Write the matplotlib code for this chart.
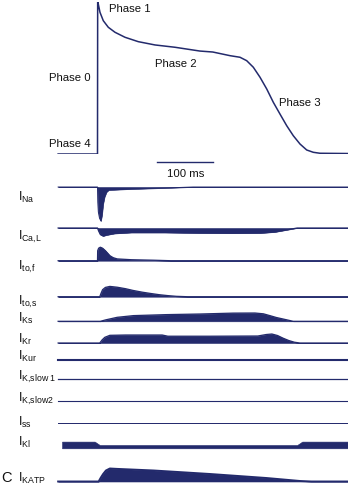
import matplotlib
matplotlib.use("Agg")
import matplotlib.pyplot as plt
import numpy as np

plt.rcParams['font.family'] = ['Liberation Sans', 'DejaVu Sans']
plt.rcParams['mathtext.fontset'] = 'custom'
plt.rcParams['mathtext.rm'] = 'Liberation Sans'
plt.rcParams['mathtext.it'] = 'Liberation Sans'

NAVY = '#232a6c'

# ---------------- data ----------------
# action potential: time (ms), membrane potential (mV)
ap_t = [-70, 0, 0.3, 1.4, 4.4, 10.3, 19.2, 31.1, 48.9, 72.5, 102.2, 137.8, 182,
        205, 235.6, 253.3, 265.2, 277, 288.9, 300.8, 312.6, 324.4, 336.4,
        348.1, 360, 371.9, 383.6, 395.6, 445]
ap_v = [-85, -85, 40, 38.1, 31.3, 24.4, 19.0, 14.9, 10.8, 7.2, 4.5, 2.6, -0.5,
        -1.3, -4.3, -5.6, -8.4, -13.8, -22.0, -31.6, -42.6, -52.2, -61.8,
        -70.0, -76.8, -81.7, -83.6, -84.4, -84.6]

phase_labels = ["Phase 0", "Phase 1", "Phase 2", "Phase 3", "Phase 4"]
scale_label = "100 ms"
scale_ms = [105, 205]

# ionic currents (relative amplitude, arbitrary units); + outward, - inward
current_names = ["Na", "Ca,L", "to,f", "to,s", "Ks", "Kr", "Kur",
                 "K,slow 1", "K,slow2", "ss", "Kl", "KATP"]

ina_t = [-70, 0, 0.5, 1.5, 3.5, 6, 8, 10, 12.5, 16, 20, 60, 120, 170, 445]
ina_v = [0, 0, -15, -25, -31, -34, -28, -17, -10, -5, -3, -2, -1, 0, 0]

ical_t = [-70, 0, 2, 5, 10, 16, 30, 60, 120, 180, 240, 290, 315, 330, 345, 355, 445]
ical_v = [0, 0, -3, -6.5, -8, -7, -5.5, -4.5, -4.5, -5, -5.2, -5, -4, -2.5, -1, 0, 0]

itof_t = [-70, 0, 0.3, 2, 5, 9, 14, 18, 22, 28, 35, 60, 100, 130, 445]
itof_v = [0, 0, 10, 12.5, 13.5, 12.5, 10, 7.5, 5, 3, 1.8, 1, 0.5, 0, 0]

itos_t = [-70, 4, 6, 9, 14, 22, 35, 50, 63, 80, 95, 110, 125, 140, 160, 445]
itos_v = [0, 0, 3, 7, 9.3, 10.3, 9.5, 8, 6.3, 4.5, 3.2, 2, 1.1, 0.4, 0, 0]

iks_t = [-70, 5, 15, 35, 64, 123, 182, 241, 280, 295, 307, 318, 330, 348, 445]
iks_v = [0, 0, 1.5, 4, 5.7, 6.7, 7.3, 8.2, 8.3, 7.5, 5.6, 3.8, 2.3, 0, 0]

ikr_t = [-70, 4, 8, 13, 22, 50, 115, 125, 200, 285, 300, 310, 320, 330, 340, 350, 360, 445]
ikr_v = [0, 0, 3, 5.7, 7.7, 8, 8, 6.8, 6.8, 7, 8.5, 9, 7.5, 4.8, 2.5, 0.8, 0, 0]

ikur_t = [-70, 445]
ikur_v = [0, 0]

ikslow1_t = [-70, 445]
ikslow1_v = [0, 0]

ikslow2_t = [-70, 445]
ikslow2_v = [0, 0]

iss_t = [-70, 445]
iss_v = [0, 0]

ik1_t = [-63, -5, 4, 355, 364, 446]
ik1_v = [6.7, 6.7, 3.3, 3.3, 6.7, 6.7]

ikatp_t = [-70, 2, 6, 10, 15, 22, 35, 100, 200, 300, 360, 380, 445]
ikatp_v = [0, 0, 4, 7.5, 11, 13, 12.6, 11, 7.5, 3.5, 0.5, 0, 0]

currents = [(ina_t, ina_v), (ical_t, ical_v), (itof_t, itof_v), (itos_t, itos_v),
            (iks_t, iks_v), (ikr_t, ikr_v), (ikur_t, ikur_v),
            (ikslow1_t, ikslow1_v), (ikslow2_t, ikslow2_v), (iss_t, iss_v),
            (ik1_t, ik1_v), (ikatp_t, ikatp_v)]

# ---------------- layout (pixels) ----------------
W, H = 348, 489
X0_PX, PX_PER_MS = 97.5, 0.5625
XLIM = (-X0_PX / PX_PER_MS, (W - X0_PX) / PX_PER_MS)

baseline_px = [188, 229, 261.7, 297.7, 322.3, 344, 361, 380, 402, 424, 449.3, 482.5]
label_base_px = [200.5, 240, 270, 305, 322, 343, 360, 380, 402, 426, 446, 481.7]
line_w = [0.7, 0.9, 0.9, 0.9, 0.9, 0.9, 1.5, 0.9, 0.8, 0.7, 0.0, 1.4]

fig = plt.figure(figsize=(W / 100, H / 100), dpi=100)


def fx(x):
    return x / W


def fy(y):
    return 1 - y / H


# action potential axes: V=40 at y=2.7px, V=-85 at y=155px
ap_top, ap_bot = 2.7, 155.0
ax = fig.add_axes([0, fy(ap_bot), 1, (ap_bot - ap_top) / H])
ax.plot(ap_t, ap_v, color=NAVY, lw=1.1, solid_joinstyle='round')
ax.set_xlim(*XLIM)
ax.set_ylim(-85, 40)
ax.axis('off')

mv_per_px = 125 / (ap_bot - ap_top)
bar_v = -85 - (163 - ap_bot) * mv_per_px
ax.plot(scale_ms, [bar_v, bar_v], color=NAVY, lw=1.0, clip_on=False)

phase_pos = [(48.7, 81), (109, 12.3), (155, 67), (279, 106), (48.7, 146.7)]
for lab, (px, py) in zip(phase_labels, phase_pos):
    fig.text(fx(px), fy(py), lab, fontsize=8.2, color='#111111',
             ha='left', va='baseline')
fig.text(fx(186), fy(177), scale_label, fontsize=8.2, color='#111111',
         ha='center', va='baseline')

# current axes: 1 unit = 1 px
for name, (t, v), yb, lb, lw in zip(current_names, currents, baseline_px,
                                     label_base_px, line_w):
    cax = fig.add_axes([0, fy(yb + 40), 1, 60 / H])
    cax.fill_between(t, 0, v, facecolor=NAVY, edgecolor=NAVY, lw=0.4)
    if lw > 0:
        cax.plot(t, v, color=NAVY, lw=lw)
    cax.set_xlim(*XLIM)
    cax.set_ylim(-40, 20)
    cax.axis('off')
    cax.patch.set_alpha(0)
    sub = name.replace(' ', r'\ ').replace(',', '{,}')
    fig.text(fx(18), fy(lb), r'I$_{\mathrm{' + sub + '}}$', fontsize=9,
             color='#111111', ha='left', va='baseline')

fig.text(fx(1.5), fy(482), 'C', fontsize=10.5, color='#111111',
         ha='left', va='baseline')

fig.savefig('out.png', dpi=100)
